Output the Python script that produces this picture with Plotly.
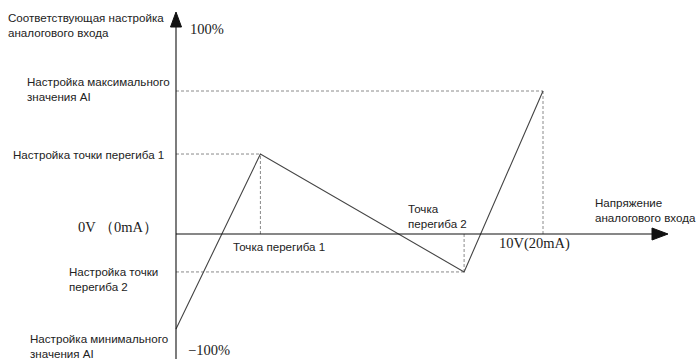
import plotly.graph_objects as go

# ---- data (input % of full scale, output setting in %) ----
input_pct = [0, 23, 78.5, 100]          # 0V, knee 1, knee 2, 10V
output_pct = [-46.6, 39.2, -18.6, 70.1]  # min AI, knee1 setting, knee2 setting, max AI

# ---- scale/figure geometry ----
W, H = 697, 359
x_origin_px, y_origin_px = 176, 234
x_scale = 3.67   # px per x unit
y_scale = 2.04   # px per y unit
x_range = [-x_origin_px / x_scale, (W - x_origin_px) / x_scale]
y_range = [-(H - y_origin_px) / y_scale, y_origin_px / y_scale]

def px_to_x(px):
    return (px - x_origin_px) / x_scale

def py_to_y(py):
    return (y_origin_px - py) / y_scale

fig = go.Figure()

# main broken line
fig.add_trace(go.Scatter(x=input_pct, y=output_pct, mode="lines",
                         line=dict(color="#444444", width=1.1),
                         hoverinfo="skip", showlegend=False))

shapes = []
dash_style = dict(color="#8a8a8a", width=1, dash="3px,2px")
# dashed guide lines for knee1, knee2 and max
for xi, yi in zip(input_pct[1:], output_pct[1:]):
    shapes.append(dict(type="line", x0=0, x1=xi, y0=yi, y1=yi, line=dash_style, layer="below"))
    shapes.append(dict(type="line", x0=xi, x1=xi, y0=0, y1=yi, line=dash_style, layer="below"))

axis_line = dict(color="#111111", width=1.1)
# vertical axis
v_base = py_to_y(27)
v_tip = py_to_y(12)
shapes.append(dict(type="line", x0=0, x1=0, y0=y_range[0], y1=v_base, line=axis_line))
hw = 5.5 / x_scale
shapes.append(dict(type="path",
                   path=f"M {-hw} {v_base} L {hw} {v_base} L 0 {v_tip} Z",
                   fillcolor="#111111", line=dict(color="#111111", width=1)))
# horizontal axis
h_base = px_to_x(652)
h_tip = px_to_x(668)
shapes.append(dict(type="line", x0=0, x1=h_base, y0=0, y1=0, line=axis_line))
hh = 6 / y_scale
shapes.append(dict(type="path",
                   path=f"M {h_base} {-hh} L {h_base} {hh} L {h_tip} 0 Z",
                   fillcolor="#111111", line=dict(color="#111111", width=1)))

sans = dict(family="Liberation Sans, Arial, sans-serif", size=11.6, color="#222222")
serif = dict(family="Liberation Serif, Times New Roman, serif", size=14.5, color="#222222")

def ann(text, px, py, font, xanchor="left", yanchor="middle"):
    return dict(text=text, x=px / W, y=1 - py / H, xref="paper", yref="paper",
                xanchor=xanchor, yanchor=yanchor, align="left", showarrow=False,
                font=font)

annotations = [
    ann("Соответствующая настройка<br>аналогового входа", 6, 25, sans),
    ann("100%", 188, 29, serif),
    ann("Настройка максимального<br>значения AI", 25, 89, sans),
    ann("Настройка точки перегиба 1", 11, 155, sans),
    ann("0V （0mA）", 76, 227, serif),
    ann("Настройка точки<br>перегиба 2", 67, 279, sans),
    ann("Настройка минимального<br>значения AI", 28, 346, sans),
    ann("−100%", 186, 350, serif),
    ann("Точка перегиба 1", 231, 246, sans),
    ann("Точка<br>перегиба 2", 406, 216, sans),
    ann("Напряжение<br>аналогового входа", 593, 210, sans),
    ann("10V(20mA)", 497, 243, serif),
]

fig.update_layout(
    width=W, height=H,
    margin=dict(l=0, r=0, t=0, b=0),
    paper_bgcolor="white", plot_bgcolor="white",
    xaxis=dict(range=x_range, visible=False, fixedrange=True),
    yaxis=dict(range=y_range, visible=False, fixedrange=True),
    shapes=shapes, annotations=annotations, showlegend=False,
)

fig.write_html("out.html", config={"displayModeBar": False},
               post_script="document.body.style.margin='0';document.body.style.overflow='hidden';")
